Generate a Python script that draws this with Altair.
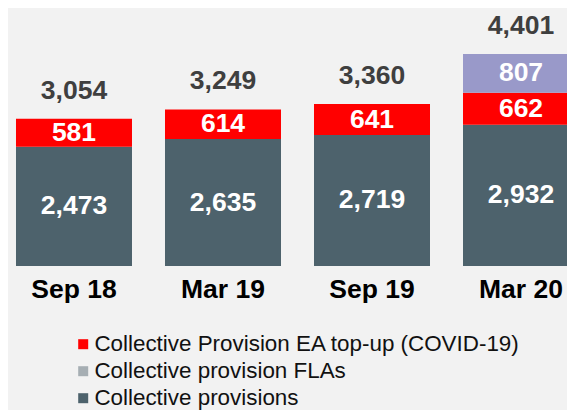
import altair as alt
import pandas as pd

categories = ["Sep 18", "Mar 19", "Sep 19", "Mar 20"]
series_names = ["Collective provisions", "Collective provision FLAs", "Collective provision EA top-up"]
collective = [2473, 2635, 2719, 2932]
flas = [581, 614, 641, 662]
covid_topup = [0, 0, 0, 807]
totals = [3054, 3249, 3360, 4401]
bar_colors = ["#4d626c", "#ff0000", "#9999c9"]

legend_labels = ["Collective Provision EA top-up (COVID-19)", "Collective provision FLAs", "Collective provisions"]
legend_colors = ["#ff0000", "#a6aeb3", "#4d626c"]

rows = []
for i, c in enumerate(categories):
    for j, (s, vals) in enumerate(zip(series_names, [collective, flas, covid_topup])):
        if vals[i] > 0:
            rows.append({"cat": c, "series": s, "ord": j, "value": vals[i]})
df = pd.DataFrame(rows)
tot_df = pd.DataFrame({"cat": categories, "total": totals})
leg_df = pd.DataFrame({"label": legend_labels})

FONT = "Liberation Sans"
FS = 26.5
yscale = alt.Scale(domain=[0, 5353], nice=False, zero=True)
xenc = alt.X(
    "cat:N", sort=categories,
    scale=alt.Scale(range=[-8.5, 587.5], paddingInner=0.2215, paddingOuter=0.1107),
    axis=alt.Axis(title=None, domain=False, ticks=False, labelAngle=0,
                  labelFontSize=FS, labelFontWeight="bold", labelFont=FONT,
                  labelColor="#000000", labelPadding=10),
)

bars = alt.Chart(df).mark_bar().encode(
    x=xenc,
    y=alt.Y("value:Q", stack="zero", scale=yscale, axis=None),
    order=alt.Order("ord:Q"),
    color=alt.Color("series:N", scale=alt.Scale(domain=series_names, range=bar_colors), legend=None),
)

seg_labels = alt.Chart(df).transform_stack(
    stack="value", as_=["v0", "v1"], groupby=["cat"], sort=[alt.SortField("ord")]
).transform_calculate(mid="(datum.v0 + datum.v1) / 2").mark_text(
    font=FONT, fontSize=FS, fontWeight="bold", color="#ffffff", baseline="middle"
).encode(
    x=alt.X("cat:N", sort=categories),
    y=alt.Y("mid:Q", scale=yscale, axis=None),
    text=alt.Text("value:Q", format=","),
)

tot_labels = alt.Chart(tot_df).mark_text(
    font=FONT, fontSize=FS, fontWeight="bold", color="#3f3f3f", baseline="middle", dy=-28
).encode(
    x=alt.X("cat:N", sort=categories),
    y=alt.Y("total:Q", scale=yscale, axis=None),
    text=alt.Text("total:Q", format=","),
)

legend_layer = alt.Chart(leg_df).mark_square(opacity=0).encode(
    x=alt.value(0), y=alt.value(0),
    fill=alt.Fill("label:N", scale=alt.Scale(domain=legend_labels, range=legend_colors),
                  legend=alt.Legend(orient="none", legendX=64, legendY=325, title=None,
                                    direction="vertical", symbolType="square", symbolSize=100,
                                    symbolStrokeWidth=0, symbolOpacity=1,
                                    labelFont=FONT, labelFontSize=22.4, labelColor="#111111",
                                    labelLimit=800, labelOffset=0, rowPadding=4)),
)

chart = alt.layer(bars, seg_labels, tot_labels, legend_layer).resolve_scale(
    color="independent", fill="independent"
).properties(
    width=559, height=258,
    autosize=alt.AutoSizeParams(type="none"),
    padding={"left": 0, "top": 0, "right": 0, "bottom": 144},
    background="#f2f2f2",
).configure_view(stroke=None)

chart.save("out.html", embed_options={"renderer": "svg", "actions": False})
